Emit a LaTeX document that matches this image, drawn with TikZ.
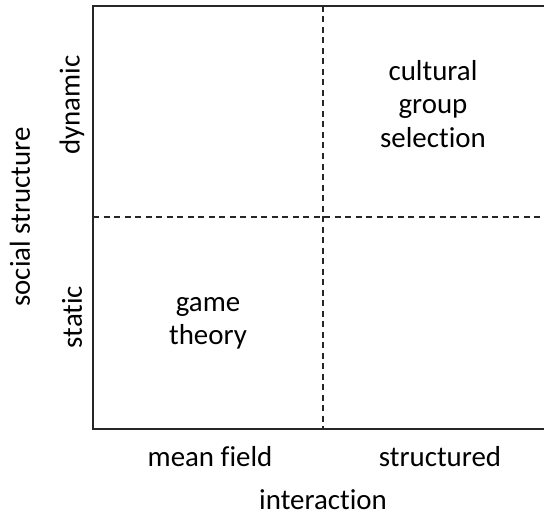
\documentclass[tikz,border=0pt]{standalone}
\usepackage{fontspec}
\setmainfont{Carlito}[Ligatures=NoCommon]
\usetikzlibrary{positioning}

\begin{document}
\begin{tikzpicture}[x=1bp, y=-1bp,
  frame/.style={draw=black!85, line width=2bp},
  split/.style={draw=black!85, line width=1.4bp, dash pattern=on 6bp off 4.5bp},
  lbl/.style={font=\fontsize{29}{33.5}\selectfont, align=center, inner sep=0pt},
  axis/.style={lbl, rotate=90}]
  \useasboundingbox (0,0) rectangle (544,517);
  % Corners of the grid
  \coordinate (tl) at (93,6);
  \coordinate (bl) at (93,429);
  \coordinate (tr) at (545,6);
  \coordinate (br) at (545,429);
  \coordinate (mt) at (323,6);
  \coordinate (mb) at (323,429);
  \coordinate (ml) at (93,217);
  \coordinate (mr) at (545,217);
  % Dividers
  \draw[split] (mt) -- (mb);
  \draw[split] (ml) -- (mr);
  % Frame
  \draw[frame] (tr) -- (tl) -- (bl) -- (br);
  % Cells
  \node[lbl] (cgs) at (433,104) {cultural\\group\\selection};
  \node[lbl] (game) at (208,323) {game\\theory};
  % Axis labels
  \node[axis] (dyn) at (72,105) {dynamic};
  \node[axis] (stat) at (72,317) {static};
  \node[axis] (social) at (20,217) {social structure};
  \node[lbl] (mean) at (210,457) {mean field};
  \node[lbl] (struct) at (440,457) {structured};
  \node[lbl] (inter) at (323,500) {interaction};
\end{tikzpicture}
\end{document}
